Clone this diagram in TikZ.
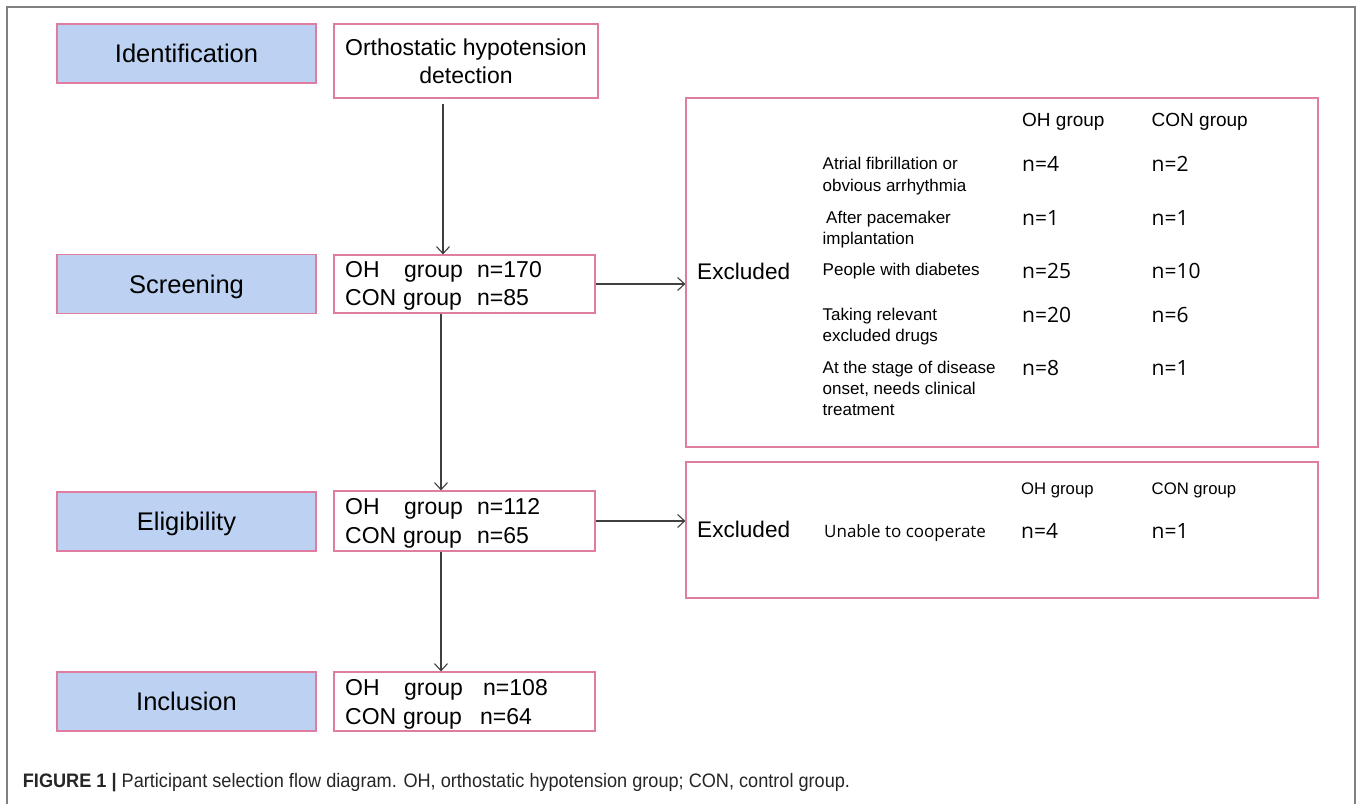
\documentclass[tikz,border=0pt]{standalone}
\usepackage{fontspec}
\setmainfont{Liberation Sans}
\newfontfamily\osfont{Open Sans}
\newfontfamily\capfont[FakeStretch=0.93]{Liberation Sans}
\usetikzlibrary{arrows.meta,calc}
\definecolor{stageblue}{RGB}{189,210,242}
\definecolor{boxpink}{RGB}{224,124,160}
\definecolor{arrgray}{RGB}{64,64,64}
\definecolor{framegray}{RGB}{128,128,128}
\tikzset{
  stagebox/.style={draw=boxpink, line width=1.2pt, fill=stageblue, minimum width=259pt, minimum height=59pt, inner sep=0pt, font=\fontsize{25.5}{30}\selectfont, text height=18.4pt, text depth=0pt},
  countbox/.style={draw=boxpink, line width=1.2pt, fill=white, minimum width=261pt, inner sep=0pt},
  exbox/.style={draw=boxpink, line width=1.2pt, fill=white, minimum width=632pt, inner sep=0pt},
  grouptxt/.style={anchor=mid west, inner sep=0pt, font=\fontsize{23}{28}\selectfont},
  exlabel/.style={anchor=mid west, inner sep=0pt, font=\fontsize{22.6}{27}\selectfont},
  headtxt/.style={anchor=mid west, inner sep=0pt, font=\fontsize{19}{23}\selectfont},
  headtxtb/.style={anchor=mid west, inner sep=0pt, font=\fontsize{16.7}{20}\selectfont},
  rowtxt/.style={anchor=mid west, inner sep=0pt, font=\fontsize{17}{21}\selectfont},
  numtxt/.style={anchor=mid west, inner sep=0pt, font=\osfont\fontsize{21}{25}\selectfont},
  arr/.style={draw=arrgray, line width=1.1pt, -{Straight Barb[length=7pt,width=13pt,line width=1.1pt]}}
}
\begin{document}
\begin{tikzpicture}[x=1pt,y=-1pt]
\useasboundingbox (0,0) rectangle (1357,804);
\fill[white] (0,0) rectangle (1357,804);
% outer frame (open at the bottom)
\draw[framegray, line width=2pt] (7,804) -- (7,7) -- (1355,7) -- (1355,804);

% stage labels
\node[stagebox] (ident) at (186.5,53.5) {Identification};
\node[stagebox] (screen) at (186.5,284) {Screening};
\node[stagebox] (elig) at (186.5,521.5) {Eligibility};
\node[stagebox] (incl) at (186.5,701.5) {Inclusion};

% detection box
\node[draw=boxpink, line width=1.2pt, fill=white, minimum width=264pt, minimum height=74pt, inner sep=0pt, align=center, font=\fontsize{23}{28}\selectfont] (ortho) at (466,61) {Orthostatic hypotension\\detection};

% count boxes
\node[countbox, minimum height=58pt] (s2) at (464.5,284) {};
\node[countbox, minimum height=60pt] (e2) at (464.5,521) {};
\node[countbox, minimum height=59pt] (i2) at (464.5,701.5) {};

\node[grouptxt] (s2a) at (345,275) {OH};
\node[grouptxt] (s2b) at (404,275) {group};
\node[grouptxt] (s2c) at (477,275) {n=170};
\node[grouptxt] (s2d) at (345,303) {CON};
\node[grouptxt] (s2e) at (403,303) {group};
\node[grouptxt] (s2f) at (477,303) {n=85};

\node[grouptxt] (e2a) at (345,512) {OH};
\node[grouptxt] (e2b) at (404,512) {group};
\node[grouptxt] (e2c) at (477,512) {n=112};
\node[grouptxt] (e2d) at (345,541) {CON};
\node[grouptxt] (e2e) at (403,541) {group};
\node[grouptxt] (e2f) at (477,541) {n=65};

\node[grouptxt] (i2a) at (345,693) {OH};
\node[grouptxt] (i2b) at (404,693) {group};
\node[grouptxt] (i2c) at (483,693) {n=108};
\node[grouptxt] (i2d) at (345,722) {CON};
\node[grouptxt] (i2e) at (403,722) {group};
\node[grouptxt] (i2f) at (480,722) {n=64};

% excluded box 1
\node[exbox, minimum height=349pt] (ex1) at (1002,272.5) {};
\node[exlabel] (ex1l) at (697,277) {Excluded};
\node[headtxt] (h1a) at (1022,124) {OH group};
\node[headtxt] (h1b) at (1151.5,124) {CON group};
\node[rowtxt] (r1a) at (822.5,167) {Atrial fibrillation or};
\node[rowtxt] (r1b) at (822.5,189) {obvious arrhythmia};
\node[rowtxt] (r2a) at (826,221) {After pacemaker};
\node[rowtxt] (r2b) at (822.5,242) {implantation};
\node[rowtxt] (r3a) at (822.5,273) {People with diabetes};
\node[rowtxt] (r4a) at (822.5,318) {Taking relevant};
\node[rowtxt] (r4b) at (822.5,339) {excluded drugs};
\node[rowtxt] (r5a) at (822.5,371) {At the stage of disease};
\node[rowtxt] (r5b) at (822.5,392) {onset, needs clinical};
\node[rowtxt] (r5c) at (822.5,413) {treatment};
\node[numtxt] (n1a) at (1022,169) {n=4};
\node[numtxt] (n1b) at (1151.5,169) {n=2};
\node[numtxt] (n2a) at (1022,223) {n=1};
\node[numtxt] (n2b) at (1151.5,223) {n=1};
\node[numtxt] (n3a) at (1022,276) {n=25};
\node[numtxt] (n3b) at (1151.5,276) {n=10};
\node[numtxt] (n4a) at (1022,320) {n=20};
\node[numtxt] (n4b) at (1151.5,320) {n=6};
\node[numtxt] (n5a) at (1022,373) {n=8};
\node[numtxt] (n5b) at (1151.5,373) {n=1};

% excluded box 2
\node[exbox, minimum height=136pt] (ex2) at (1002,530) {};
\node[exlabel] (ex2l) at (697,535) {Excluded};
\node[headtxtb] (h2a) at (1021,492) {OH group};
\node[headtxtb] (h2b) at (1151.5,492) {CON group};
\node[anchor=mid west, inner sep=0pt, font=\osfont\fontsize{17}{21}\selectfont] (u1) at (824,535) {Unable to cooperate};
\node[numtxt] (u2) at (1021,536) {n=4};
\node[numtxt] (u3) at (1151.5,536) {n=1};

% connectors
\coordinate (c1) at (443,0);
\coordinate (c2) at (441,0);
\draw[arr, shorten <=5pt] (ortho.south -| c1) -- (s2.north -| c1);
\draw[arr] (s2.south -| c2) -- (e2.north -| c2);
\draw[arr] (e2.south -| c2) -- (i2.north -| c2);
\draw[arr] (s2.east) -- (s2.east -| ex1.west);
\draw[arr] (e2.east) -- (e2.east -| ex2.west);

% caption
\node[anchor=mid west, inner sep=0pt, text=black!85, font=\capfont\fontsize{19.5}{23}\selectfont] (cap) at (22.7,785) {\textbf{FIGURE 1 |} Participant selection flow diagram. OH, orthostatic hypotension group; CON, control group.};
\end{tikzpicture}
\end{document}
